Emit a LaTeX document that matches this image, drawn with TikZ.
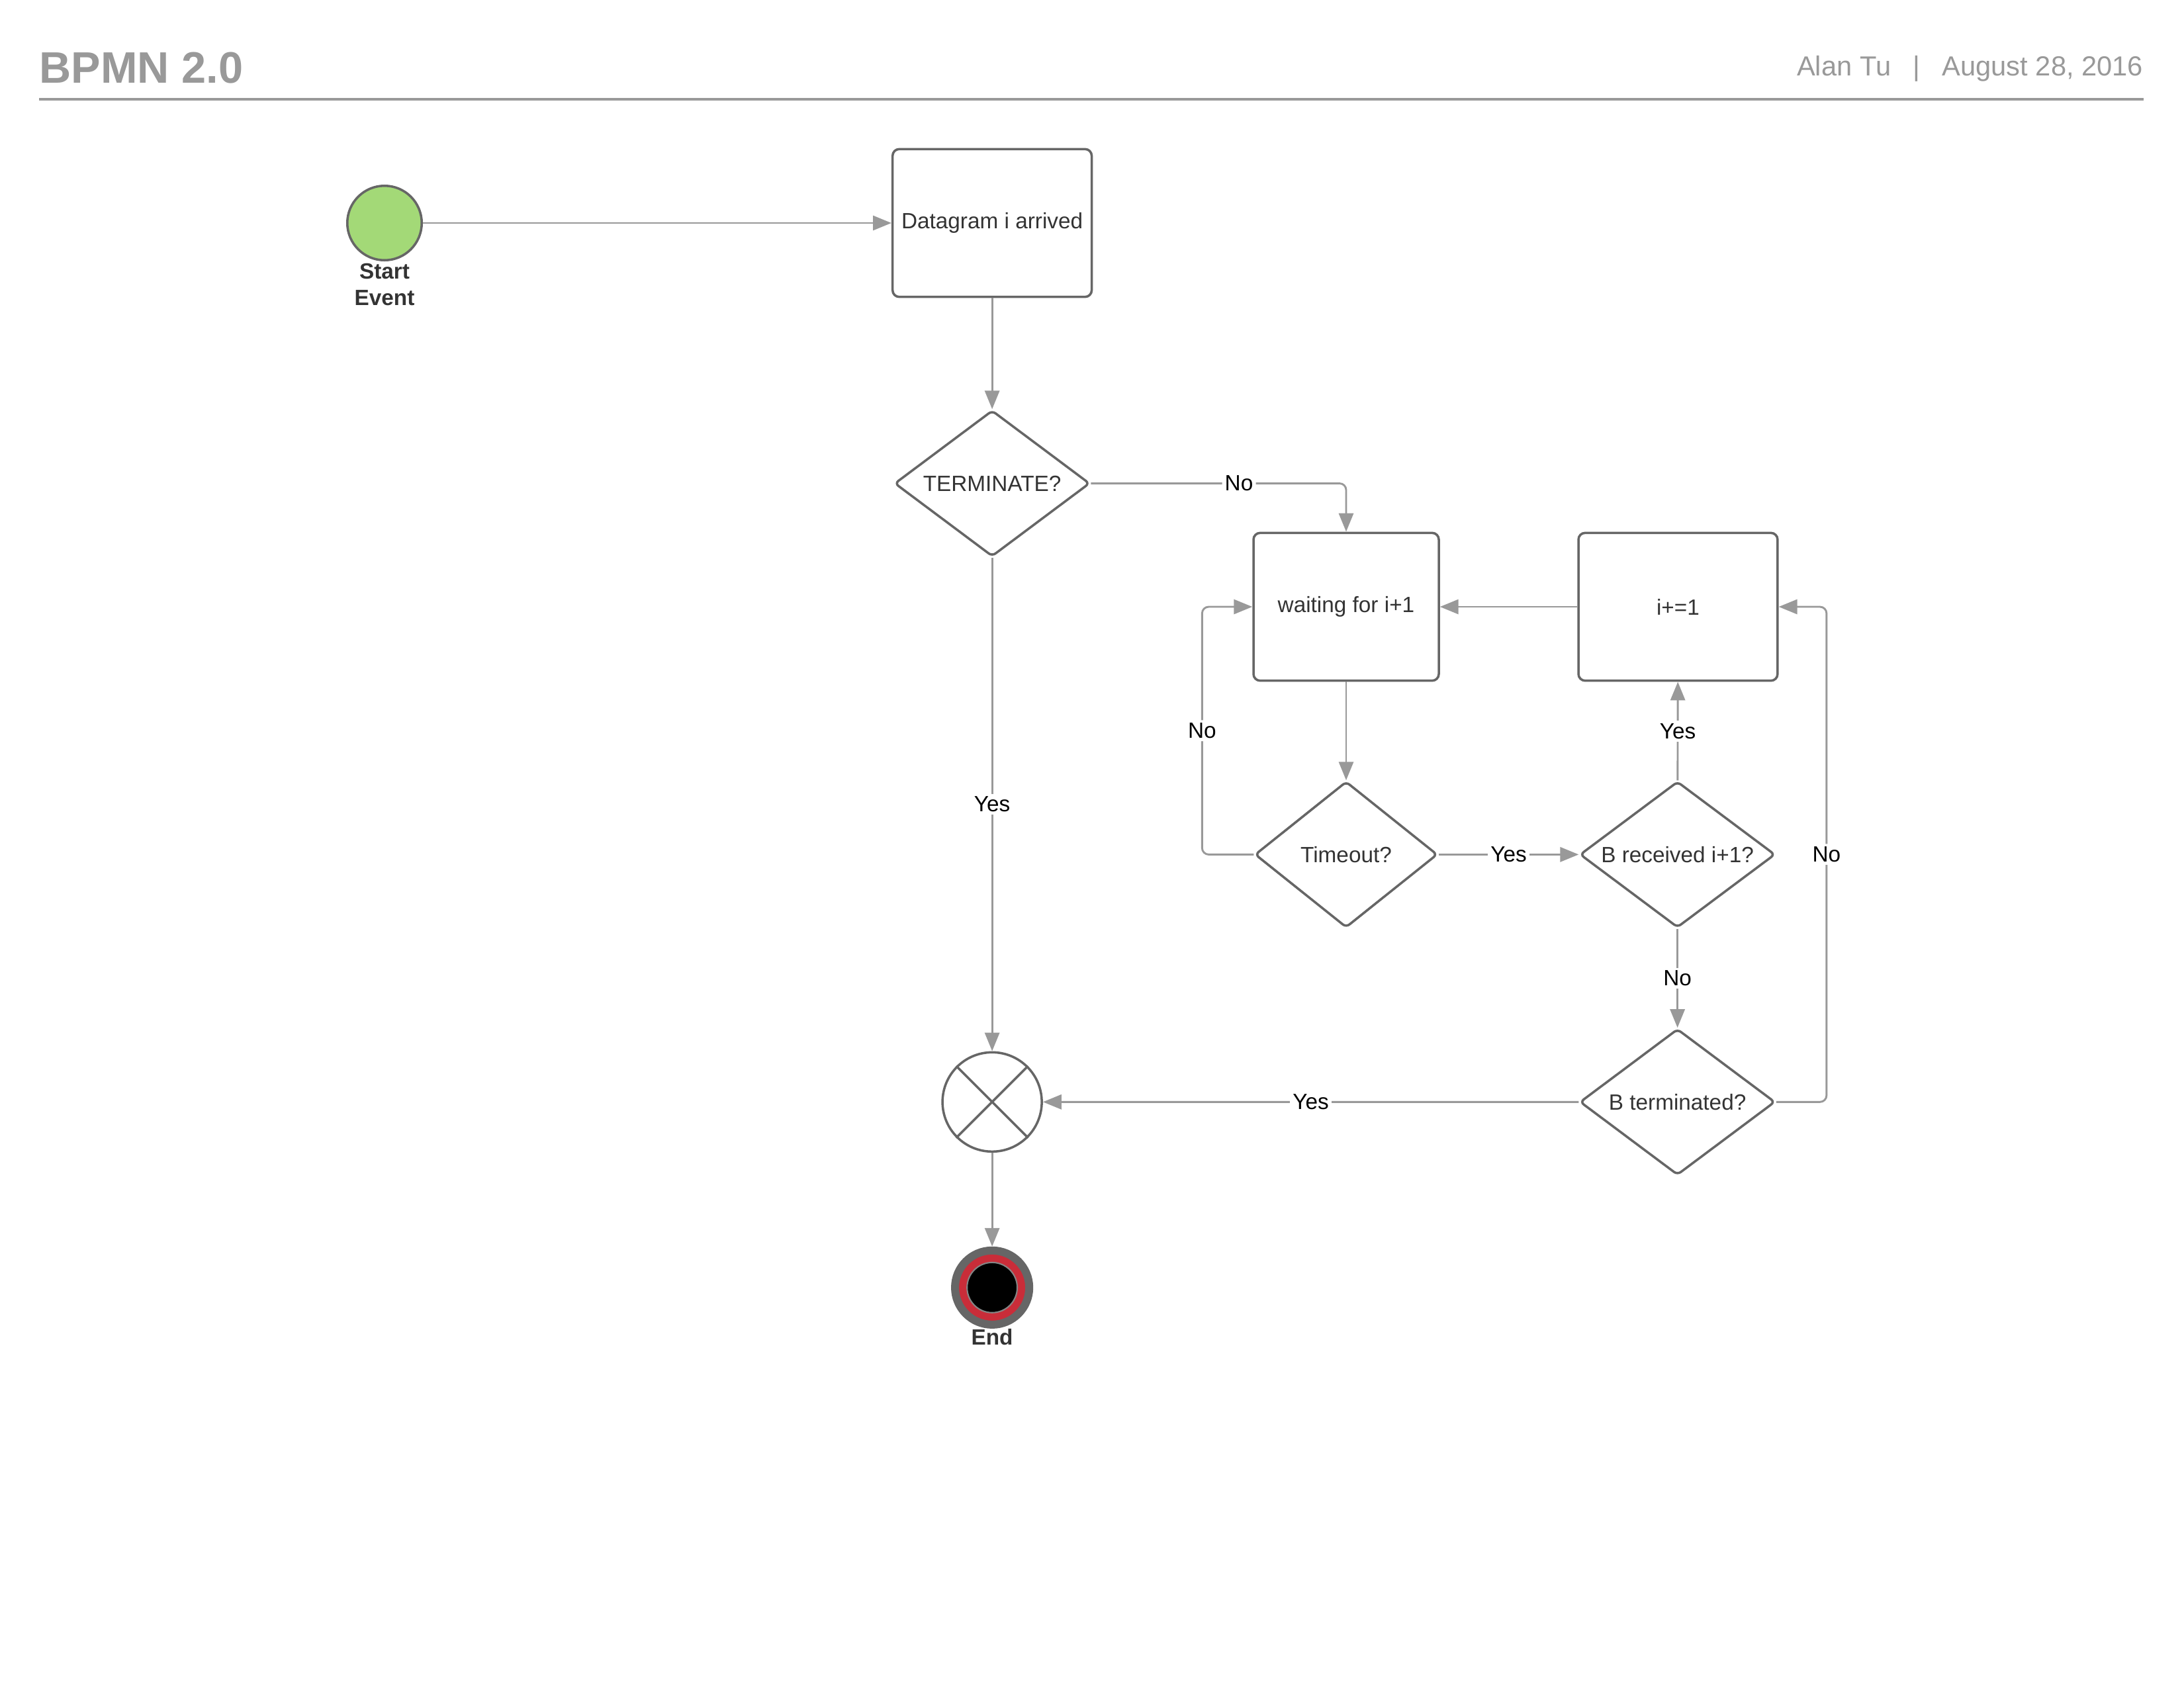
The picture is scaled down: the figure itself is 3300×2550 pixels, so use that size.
\documentclass[tikz,border=0pt]{standalone}
\usepackage{fontspec}
\setmainfont{Liberation Sans}
\usetikzlibrary{arrows.meta, positioning, shapes.geometric}
\definecolor{lineColor}{HTML}{999999}
\definecolor{borderColor}{HTML}{666666}
\definecolor{textColor}{HTML}{333333}
\definecolor{headColor}{HTML}{999999}
\definecolor{startColor}{HTML}{A3D977}
\definecolor{endColor}{HTML}{C92D39}

\begin{document}
\begin{tikzpicture}[
    x=0.24pt, y=-0.24pt,
    base/.style={draw=borderColor, line width=0.85pt, font=\fontsize{8}{9.6}\selectfont, text=textColor, align=center, inner sep=0pt},
    task/.style={base, rectangle, rounded corners=2.4pt, minimum width=72.2pt, minimum height=53.6pt},
    decision/.style={base, diamond, aspect=1.33, rounded corners=1.5pt, minimum width=70.8pt, minimum height=53pt},
    startevent/.style={base, circle, fill=startColor, minimum size=27pt},
    endevent/.style={circle, draw=borderColor, line width=2.9pt, fill=endColor, minimum size=26.9pt, inner sep=0pt},
    endcore/.style={circle, draw=borderColor!80, line width=0.5pt, fill=black, minimum size=18.2pt, inner sep=0pt},
    gateway/.style={base, circle, minimum size=36pt},
    eventlabel/.style={font=\fontsize{8}{9.6}\selectfont\bfseries, text=textColor, align=center, inner sep=0pt},
    flow/.style={-{Triangle[length=6.7pt, width=5.3pt]}, draw=lineColor, line width=0.7pt},
    edgelabel/.style={font=\fontsize{8}{9.6}\selectfont, text=black, fill=white, inner sep=1pt}
]
\useasboundingbox (0,0) rectangle (3300,2550);

% header
\node[anchor=base west, font=\fontsize{16}{19}\selectfont\bfseries, text=headColor, inner sep=0pt] (title) at (59,125) {BPMN 2.0};
\node[anchor=base east, font=\fontsize{10}{12}\selectfont, text=headColor, inner sep=0pt] (author) at (3239,114) {Alan Tu\hspace{8pt}|\hspace{8pt}August 28, 2016};
\draw[draw=headColor, line width=0.8pt] (59,150) -- (3239,150);

% main column
\node[startevent] (start) at (581,337) {};
\node[eventlabel, below=0.6pt of start] (startLabel) {Start\\Event};
\node[task, right=169.9pt of start] (datagram) {Datagram i arrived};
\node[decision, below=40.3pt of datagram] (terminate) {TERMINATE?};
\node[gateway, below=179pt of terminate] (gate) {};
\node[endevent, below=34pt of gate] (end) {};
\node[endcore] (endCore) at (end) {};
\node[eventlabel, below=0pt of end] (endLabel) {End};

% retry loop
\node[task, minimum width=67.2pt] (waiting) at (2034,917) {waiting for i+1};
\node[task, right=49.8pt of waiting] (increment) {i+=1};
\node[decision, minimum width=66.2pt, below=35.7pt of waiting] (timeout) {Timeout?};
\node[decision, right=50.8pt of timeout] (received) {B received i+1?};
\node[decision, below=35.9pt of received] (bterminated) {B terminated?};

\draw[draw=borderColor, line width=0.85pt] (gate.north west) -- (gate.south east) (gate.north east) -- (gate.south west);

\draw[flow] (start) -- (datagram);
\draw[flow] (datagram) -- (terminate);
\draw[flow, rounded corners=2.4pt] (terminate.east) -| node[pos=0.29, edgelabel] {No} (waiting.north);
\draw[flow] (terminate) -- node[edgelabel] {Yes} (gate);
\draw[flow] (waiting) -- (timeout);
\draw[flow] (timeout) -- node[edgelabel] {Yes} (received);
\draw[flow, rounded corners=2.4pt] (timeout.west) -- ++(-78,0) |- node[pos=0.25, edgelabel] {No} (waiting.west);
\draw[flow] (received) -- node[edgelabel] {Yes} (increment);
\draw[flow] (increment) -- (waiting);
\draw[flow] (received) -- node[edgelabel] {No} (bterminated);
\draw[flow] (bterminated) -- node[edgelabel] {Yes} (gate);
\draw[flow, rounded corners=2.4pt] (bterminated.east) -- ++(76,0) |- node[pos=0.25, edgelabel] {No} (increment.east);
\draw[flow] (gate) -- (end);

\end{tikzpicture}
\end{document}
